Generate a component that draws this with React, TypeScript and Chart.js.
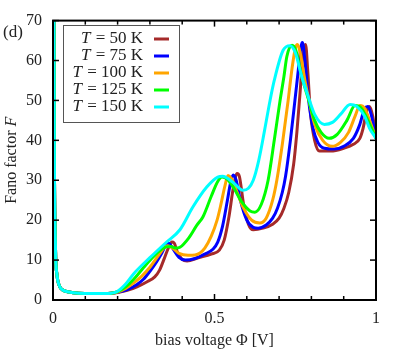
import React, { useEffect, useRef } from "react";
import { Chart, registerables } from "chart.js";

Chart.register(...registerables);

const temperatures = ["50", "75", "100", "125", "150"];
const colors = ["#a52a2a", "#0000ff", "#ffa500", "#00ff00", "#00ffff"];

const phiStart = [0, 0.004, 0.008, 0.012, 0.02, 0.03, 0.05, 0.08, 0.12, 0.16, 0.18];
const fanoStart = [160, 40, 12, 6.5, 3.5, 2.5, 2.0, 1.7, 1.6, 1.6, 1.7];

const phi50 = [0.2, 0.23, 0.26, 0.29, 0.315, 0.33, 0.345, 0.358, 0.368, 0.375, 0.385, 0.4, 0.415, 0.45, 0.49, 0.515, 0.53, 0.545, 0.558, 0.57, 0.577, 0.59, 0.605, 0.62, 0.65, 0.68, 0.7, 0.715, 0.73, 0.745, 0.755, 0.765, 0.774, 0.782, 0.789, 0.797, 0.81, 0.825, 0.86, 0.9, 0.93, 0.95, 0.96, 0.97, 0.98, 0.99, 1];
const fano50 = [1.9, 2.4, 3.3, 4.5, 5.8, 7.5, 10.5, 13.2, 14.5, 14.3, 12, 10.2, 9.8, 10.6, 11.5, 12.5, 15, 21, 28, 31.7, 31, 24, 19, 17.6, 18, 19, 20.5, 23, 27, 34, 42, 52, 62, 64, 57, 47, 40, 37.3, 37.3, 38, 39, 40.5, 43, 47, 48.5, 46, 40.5];

const phi75 = [0.2, 0.23, 0.26, 0.28, 0.3, 0.32, 0.337, 0.35, 0.358, 0.37, 0.39, 0.41, 0.44, 0.47, 0.495, 0.51, 0.525, 0.54, 0.55, 0.558, 0.567, 0.58, 0.6, 0.62, 0.635, 0.66, 0.68, 0.695, 0.71, 0.72, 0.735, 0.749, 0.76, 0.768, 0.772, 0.78, 0.79, 0.805, 0.82, 0.84, 0.87, 0.9, 0.93, 0.95, 0.965, 0.975, 0.985, 1];
const fano75 = [1.95, 2.6, 3.9, 5.2, 7.2, 9.5, 11.8, 13.8, 14.2, 13, 10.7, 10, 10.4, 11.5, 12.7, 14.5, 18.5, 25, 29.5, 31.3, 30, 25, 20, 18.2, 18, 18.8, 20.5, 23, 27, 31, 40, 50, 58, 63.5, 64.5, 60, 51, 43, 39.5, 38, 37.8, 38.5, 40.5, 44, 48, 48.5, 46.5, 40.5];

const phi100 = [0.2, 0.225, 0.25, 0.275, 0.3, 0.331, 0.345, 0.355, 0.37, 0.39, 0.418, 0.44, 0.455, 0.47, 0.49, 0.508, 0.52, 0.532, 0.542, 0.552, 0.57, 0.59, 0.615, 0.64, 0.66, 0.68, 0.693, 0.71, 0.728, 0.74, 0.75, 0.757, 0.765, 0.78, 0.79, 0.81, 0.835, 0.864, 0.89, 0.915, 0.935, 0.95, 0.965, 0.98, 1];
const fano100 = [2.0, 2.9, 4.3, 6.0, 8.2, 11.7, 13.2, 13.6, 13, 11.7, 11.2, 11.3, 11.8, 13, 16, 20, 24, 28.5, 31.2, 30.5, 27, 23, 20, 19.3, 20.5, 25, 30, 39, 50, 58, 63, 64, 62, 55, 51, 44, 40, 38.5, 39.5, 42, 46, 48.7, 48, 45, 40.5];

const phi125 = [0.2, 0.225, 0.25, 0.275, 0.3, 0.33, 0.35, 0.365, 0.38, 0.393, 0.42, 0.445, 0.464, 0.49, 0.51, 0.523, 0.54, 0.56, 0.585, 0.61, 0.625, 0.645, 0.666, 0.685, 0.703, 0.715, 0.724, 0.74, 0.752, 0.77, 0.79, 0.81, 0.83, 0.855, 0.88, 0.91, 0.935, 0.955, 0.975, 1];
const fano125 = [2.1, 3.3, 5.2, 7.6, 9.9, 12.3, 13.3, 13.4, 13.0, 13.2, 15.5, 18.7, 20.8, 26, 29.7, 30.8, 30.2, 28, 24.5, 22.3, 22, 24, 30, 40, 50, 56, 61, 63.8, 62.5, 56, 50.5, 45, 42, 40.5, 41.5, 45, 48.7, 48, 45, 40.5];

const phi150 = [0.2, 0.225, 0.25, 0.3, 0.35, 0.393, 0.433, 0.476, 0.51, 0.525, 0.557, 0.588, 0.605, 0.62, 0.637, 0.655, 0.672, 0.685, 0.712, 0.734, 0.75, 0.77, 0.79, 0.81, 0.84, 0.865, 0.89, 0.92, 0.94, 0.965, 0.98, 1];
const fano150 = [2.2, 4.0, 6.6, 10.6, 14.4, 17.6, 23.3, 28.3, 30.8, 31, 29.5, 27.5, 28, 30, 35, 42.5, 50, 55, 62.5, 63.7, 62, 56, 51, 46.5, 44, 44.5, 46.5, 49, 48.5, 46, 43, 40.5];

const seriesPhi = [phi50, phi75, phi100, phi125, phi150];
const seriesFano = [fano50, fano75, fano100, fano125, fano150];

const yTickValues = [0, 10, 20, 30, 40, 50, 60, 70];
const xTickValues = [0, 0.1, 0.2, 0.3, 0.4, 0.5, 0.6, 0.7, 0.8, 0.9, 1];
const xLabelledTicks = [0, 0.5, 1];

const FONT = '"Liberation Serif", "DejaVu Serif", serif';
const TEXT = "#222";

const decorPlugin = {
  id: "decor",
  afterDatasetsDraw(chart: any) {
    const { ctx, chartArea: a, scales } = chart;
    const xs = scales.x;
    const ys = scales.y;
    ctx.save();
    ctx.strokeStyle = "#000";
    ctx.lineWidth = 1.5;
    const seg = (x1: number, y1: number, x2: number, y2: number) => {
      ctx.beginPath();
      ctx.moveTo(x1, y1);
      ctx.lineTo(x2, y2);
      ctx.stroke();
    };
    for (const v of yTickValues) {
      const py = ys.getPixelForValue(v);
      seg(a.left, py, a.left + 6, py);
      seg(a.right, py, a.right - 6, py);
    }
    for (const v of xTickValues) {
      const px = xs.getPixelForValue(v);
      const major = xLabelledTicks.some((t) => Math.abs(t - v) < 1e-9);
      const len = major ? 6 : 4;
      seg(px, a.bottom, px, a.bottom - len);
      seg(px, a.top, px, a.top + len);
    }
    ctx.lineWidth = 2;
    ctx.strokeRect(a.left, a.top, a.right - a.left, a.bottom - a.top);

    // legend
    const bx = 63, by = 25, bw = 116, bh = 97;
    ctx.fillStyle = "#fff";
    ctx.fillRect(bx, by, bw, bh);
    ctx.strokeStyle = "#555";
    ctx.lineWidth = 1;
    ctx.strokeRect(bx + 0.5, by + 0.5, bw, bh);
    ctx.textBaseline = "middle";
    for (let i = 0; i < temperatures.length; i++) {
      const cy = 39 + i * 17;
      const rest = " = " + temperatures[i] + " K";
      ctx.font = `17px ${FONT}`;
      const wRest = ctx.measureText(rest).width;
      ctx.font = `italic 17px ${FONT}`;
      const wT = ctx.measureText("T").width;
      const right = 143;
      ctx.fillStyle = TEXT;
      ctx.textAlign = "left";
      ctx.fillText("T", right - wRest - wT - 1, cy);
      ctx.font = `17px ${FONT}`;
      ctx.fillText(rest, right - wRest, cy);
      ctx.strokeStyle = colors[i];
      ctx.lineWidth = 3;
      seg(154, cy, 169, cy);
    }

    // panel label
    ctx.fillStyle = TEXT;
    ctx.font = `17px ${FONT}`;
    ctx.textAlign = "left";
    ctx.fillText("(d)", 3, 33);

    // x title
    ctx.textAlign = "center";
    ctx.font = `16px ${FONT}`;
    ctx.fillText("bias voltage \u03A6 [V]", (a.left + a.right) / 2, 341);

    // y title
    ctx.translate(12, (a.top + a.bottom) / 2);
    ctx.rotate(-Math.PI / 2);
    const t1 = "Fano factor ";
    ctx.font = `16px ${FONT}`;
    const w1 = ctx.measureText(t1).width;
    ctx.font = `italic 16px ${FONT}`;
    const w2 = ctx.measureText("F").width;
    const start = -(w1 + w2) / 2;
    ctx.textAlign = "left";
    ctx.font = `16px ${FONT}`;
    ctx.fillText(t1, start, 0);
    ctx.font = `italic 16px ${FONT}`;
    ctx.fillText("F", start + w1, 0);
    ctx.restore();
  },
};

export default function App() {
  const ref = useRef<HTMLCanvasElement | null>(null);
  useEffect(() => {
    if (!ref.current) return;
    const datasets = seriesPhi.map((phi, i) => {
      const xsAll = [...phiStart, ...phi];
      const ysAll = [...fanoStart, ...seriesFano[i]];
      return {
        label: "T = " + temperatures[i] + " K",
        data: xsAll.map((x, k) => ({ x, y: ysAll[k] })),
        borderColor: colors[i],
        backgroundColor: colors[i],
        borderWidth: 3,
        pointRadius: 0,
        cubicInterpolationMode: "monotone" as const,
        fill: false,
        clip: 0,
        order: temperatures.length - i,
      };
    });
    const chart = new Chart(ref.current, {
      type: "line",
      data: { datasets },
      options: {
        animation: false,
        responsive: false,
        layout: { padding: { top: 20, right: 31, left: 0, bottom: 0 } },
        plugins: { legend: { display: false }, tooltip: { enabled: false } },
        scales: {
          x: {
            type: "linear",
            min: 0,
            max: 1,
            grid: { display: false, drawTicks: false },
            border: { display: false },
            ticks: {
              stepSize: 0.1,
              autoSkip: false,
              maxRotation: 0,
              padding: 9,
              color: TEXT,
              font: { family: FONT, size: 16 },
              callback: (v: any) => {
                const n = Number(v);
                const hit = xLabelledTicks.find((t) => Math.abs(t - n) < 1e-6);
                return hit === undefined ? "" : String(hit);
              },
            },
            afterFit: (s: any) => {
              s.height = 56;
            },
          },
          y: {
            min: 0,
            max: 70,
            grid: { display: false, drawTicks: false },
            border: { display: false },
            ticks: {
              stepSize: 10,
              padding: 11,
              color: TEXT,
              font: { family: FONT, size: 16 },
            },
            afterFit: (s: any) => {
              s.width = 53;
            },
          },
        },
      },
      plugins: [decorPlugin],
    });
    return () => chart.destroy();
  }, []);
  return (
    <canvas
      ref={ref}
      width={407}
      height={356}
      style={{ position: "fixed", left: 0, top: 0, width: 407, height: 356 }}
    />
  );
}
